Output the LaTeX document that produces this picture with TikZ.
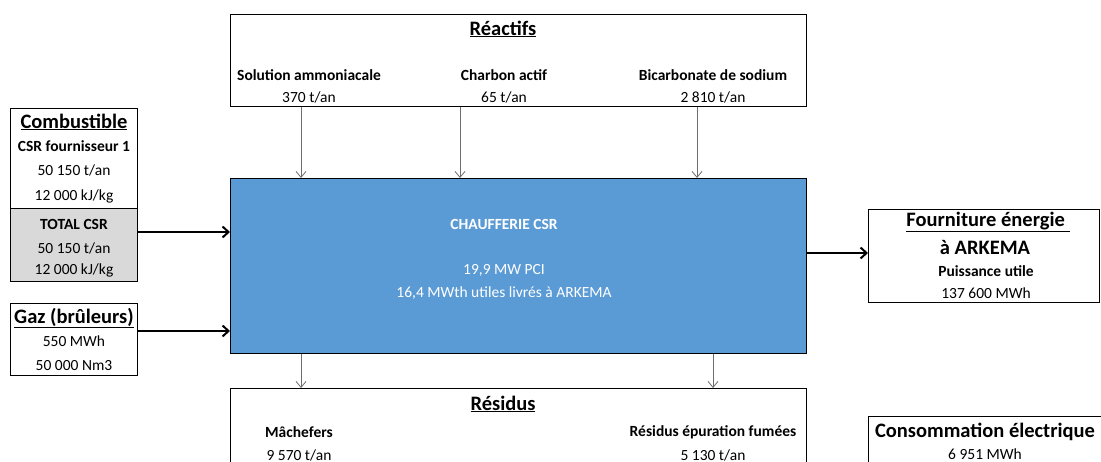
\documentclass[tikz,border=0pt]{standalone}
\usepackage{fontspec}
\setmainfont{Carlito}
\usetikzlibrary{arrows.meta}
\definecolor{boxblue}{HTML}{5B9BD5}
\definecolor{totgrey}{HTML}{D9D9D9}
\definecolor{feedgrey}{HTML}{6E6E6E}
\begin{document}
\begin{tikzpicture}[x=1pt,y=-1pt,
  box/.style={draw=black, line width=1.4pt, inner sep=0pt, anchor=north west},
  txt/.style={inner sep=0pt, font=\fontsize{15.5}{18}\selectfont},
  btxt/.style={txt, font=\fontsize{15.5}{18}\selectfont\bfseries},
  head/.style={inner sep=0pt, font=\fontsize{20.5}{24}\selectfont\bfseries},
  feed/.style={draw=feedgrey, line width=0.8pt, -{Straight Barb[length=6pt,width=10pt,line width=0.8pt]}},
  flow/.style={draw=black, line width=2.4pt, -{Straight Barb[length=6pt,width=11pt,line width=2pt]}}]
\clip (0,0) rectangle (1101,462);
\fill[white] (0,0) rectangle (1101,462);

% boxes
\node[box, minimum width=576pt, minimum height=92pt] (reac) at (230,14) {};
\node[box, fill=boxblue, minimum width=576pt, minimum height=175pt] (main) at (230,178) {};
\node[box, minimum width=127pt, minimum height=100pt] (comb) at (10,108) {};
\node[box, fill=totgrey, minimum width=127pt, minimum height=73pt] (tot) at (10,208) {};
\node[box, minimum width=127pt, minimum height=72pt] (gaz) at (10,303) {};
\node[box, minimum width=231pt, minimum height=93pt] (four) at (868,209) {};
\node[box, minimum width=576pt, minimum height=120pt] (resi) at (230,388) {};
\node[box, minimum width=260pt, minimum height=80pt] (elec) at (868,416) {};

% reagents
\node[head] at (503,29) {\underline{Réactifs}};
\node[btxt] (am) at (309,75) {Solution ammoniacale};
\node[txt] at (309,97) {370 t/an};
\node[btxt] (ch) at (504,75) {Charbon actif};
\node[txt] at (504,97) {65 t/an};
\node[btxt] (bi) at (713,75) {Bicarbonate de sodium};
\node[txt] at (713,97) {2 810 t/an};

% fuel
\node[head] at (74,122) {\underline{Combustible}};
\node[btxt] at (74,146) {CSR fournisseur 1};
\node[txt] at (74,170) {50 150 t/an};
\node[txt] at (74,196) {12 000 kJ/kg};
\node[btxt] at (74,224) {TOTAL CSR};
\node[txt] at (74,248) {50 150 t/an};
\node[txt] at (74,270) {12 000 kJ/kg};

% gas
\node[head] at (74,318) {\underline{Gaz (brûleurs)}};
\node[txt] at (74,341) {550 MWh};
\node[txt] at (74,366) {50 000 Nm3};

% boiler
\node[btxt, text=white] at (504,224) {CHAUFFERIE CSR};
\node[txt, text=white] at (504,270) {19,9 MW PCI};
\node[txt, text=white] at (504,293) {16,4 MWth utiles livrés à ARKEMA};

% delivered energy
\node[head] at (988,222) {\underline{Fourniture énergie~}};
\node[head] at (985,248) {à ARKEMA};
\node[btxt] at (986,271) {Puissance utile};
\node[txt] at (986,293) {137 600 MWh};

% residues
\node[head] at (503,404) {\underline{Résidus}};
\node[btxt] at (299,432) {Mâchefers};
\node[txt] at (299,455) {9 570 t/an};
\node[btxt] at (713,432) {Résidus épuration fumées};
\node[txt] at (713,455) {5 130 t/an};

% electricity
\node[head] at (985,432) {Consommation électrique};
\node[txt] at (985,454) {6 951 MWh};

% connectors
\coordinate (x1) at (301,0);
\coordinate (x2) at (460,0);
\coordinate (x3) at (697,0);
\coordinate (x4) at (713,0);
\coordinate (yc) at (0,232);
\coordinate (yg) at (0,331);
\coordinate (yo) at (0,253);
\draw[feed] (reac.south -| x1) -- (main.north -| x1);
\draw[feed] (reac.south -| x2) -- (main.north -| x2);
\draw[feed] (reac.south -| x3) -- (main.north -| x3);
\draw[feed] (main.south -| x1) -- (resi.north -| x1);
\draw[feed] (main.south -| x4) -- (resi.north -| x4);
\draw[flow] (yc -| tot.east) -- (yc -| main.west);
\draw[flow] (yg -| gaz.east) -- (yg -| main.west);
\draw[flow] (yo -| main.east) -- (yo -| four.west);
\end{tikzpicture}
\end{document}
